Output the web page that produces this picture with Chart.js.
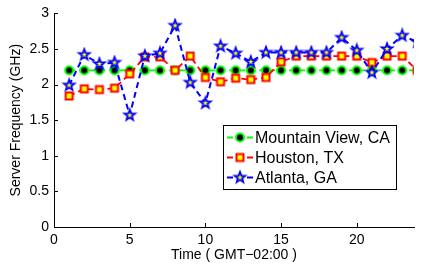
<!DOCTYPE html>
<html>
<head>
<meta charset="utf-8">
<script src="https://cdn.jsdelivr.net/npm/chart.js@4/dist/chart.umd.min.js"></script>
<style>
  html, body { margin: 0; padding: 0; background: #fff; overflow: hidden; }
  #wrap { width: 421px; height: 267px; position: relative; }
</style>
</head>
<body>
<div id="wrap"><canvas id="chart"></canvas></div>
<script>
// ===== Data =====
const hours = [1, 2, 3, 4, 5, 6, 7, 8, 9, 10, 11, 12, 13, 14, 15, 16, 17, 18, 19, 20, 21, 22, 23, 24];
const mountainView = [2.2, 2.2, 2.2, 2.2, 2.2, 2.2, 2.2, 2.2, 2.2, 2.2, 2.2, 2.2,
                      2.2, 2.2, 2.2, 2.2, 2.2, 2.2, 2.2, 2.2, 2.2, 2.2, 2.2, 2.2];
const houston = [1.84, 1.94, 1.93, 1.95, 2.15, 2.39, 2.39, 2.2, 2.4, 2.1, 2.04, 2.09,
                 2.07, 2.1, 2.32, 2.4, 2.4, 2.4, 2.4, 2.4, 2.31, 2.4, 2.4, 2.2];
const atlanta = [1.99, 2.42, 2.29, 2.31, 1.57, 2.4, 2.44, 2.83, 2.03, 1.74, 2.54, 2.44,
                 2.32, 2.45, 2.45, 2.45, 2.45, 2.45, 2.66, 2.48, 2.17, 2.5, 2.69, 2.6];
const seriesLabels = ["Mountain View, CA", "Houston, TX", "Atlanta, GA"];
const xTicks = [0, 5, 10, 15, 20];
const yTicks = [0, 0.5, 1, 1.5, 2, 2.5, 3];

const FONT = "'Liberation Sans', Arial, Helvetica, sans-serif";

// ===== Markers (MATLAB style) =====
function makeMarker(size, draw) {
  const c = document.createElement("canvas");
  c.width = size;
  c.height = size;
  const ctx = c.getContext("2d");
  ctx.translate(size / 2, size / 2);
  draw(ctx);
  return c;
}

const circleMarker = makeMarker(12, (ctx) => {
  ctx.beginPath();
  ctx.arc(0, 0, 4, 0, Math.PI * 2);
  ctx.fillStyle = "#000";
  ctx.fill();
  ctx.lineWidth = 2;
  ctx.strokeStyle = "#00ff00";
  ctx.stroke();
});

const squareMarker = makeMarker(12, (ctx) => {
  ctx.beginPath();
  ctx.rect(-3.5, -3.5, 7, 7);
  ctx.fillStyle = "#ffff00";
  ctx.fill();
  ctx.lineWidth = 2;
  ctx.strokeStyle = "#ff0000";
  ctx.stroke();
});

const starMarker = makeMarker(16, (ctx) => {
  ctx.beginPath();
  for (let i = 0; i < 10; i++) {
    const r = i % 2 === 0 ? 5.6 : 2.3;
    const a = -Math.PI / 2 + (i * Math.PI) / 5;
    ctx.lineTo(r * Math.cos(a), r * Math.sin(a));
  }
  ctx.closePath();
  ctx.fillStyle = "#ffff00";
  ctx.fill();
  ctx.lineWidth = 1.8;
  ctx.strokeStyle = "#0000ff";
  ctx.stroke();
});

const toPoints = (ys) => hours.map((h, i) => ({ x: h, y: ys[i] }));

// ===== Plugins =====
// inward tick marks like MATLAB
const innerTicks = {
  id: "innerTicks",
  afterDraw(chart) {
    const { ctx, chartArea: a, scales: { x, y } } = chart;
    ctx.save();
    ctx.strokeStyle = "#000";
    ctx.lineWidth = 1;
    ctx.beginPath();
    xTicks.forEach((v) => {
      const px = Math.round(x.getPixelForValue(v)) + 0.5;
      ctx.moveTo(px, a.bottom);
      ctx.lineTo(px, a.bottom - 4);
    });
    yTicks.forEach((v) => {
      const py = Math.round(y.getPixelForValue(v)) + 0.5;
      ctx.moveTo(a.left, py);
      ctx.lineTo(a.left + 4, py);
    });
    ctx.stroke();
    ctx.restore();
  },
};

// boxed legend with "-marker-" samples
const boxLegend = {
  id: "boxLegend",
  afterDraw(chart) {
    const { ctx } = chart;
    const box = { x: 223.5, y: 125.5, w: 173, h: 64 };
    ctx.save();
    ctx.fillStyle = "#fff";
    ctx.fillRect(box.x, box.y, box.w, box.h);
    ctx.strokeStyle = "#000";
    ctx.lineWidth = 1;
    ctx.strokeRect(box.x, box.y, box.w, box.h);
    ctx.font = "16px " + FONT;
    ctx.textBaseline = "middle";
    ctx.fillStyle = "#000";
    chart.data.datasets.forEach((ds, i) => {
      const cy = 137.5 + i * 20;
      ctx.strokeStyle = ds.borderColor;
      ctx.lineWidth = 1.8;
      ctx.beginPath();
      ctx.moveTo(227, cy);
      ctx.lineTo(233, cy);
      ctx.moveTo(247, cy);
      ctx.lineTo(253, cy);
      ctx.stroke();
      const m = ds.pointStyle;
      ctx.drawImage(m, 240 - m.width / 2, cy - m.height / 2);
      ctx.fillStyle = "#000";
      ctx.fillText(ds.label, 255, cy + 1);
    });
    ctx.restore();
  },
};

// ===== Chart =====
const tickFont = { family: FONT, size: 14 };

new Chart(document.getElementById("chart"), {
  type: "line",
  data: {
    datasets: [
      {
        label: seriesLabels[0],
        data: toPoints(mountainView),
        borderColor: "#00ff00",
        borderWidth: 1.8,
        borderDash: [6, 4],
        pointStyle: circleMarker,
        order: 2,
      },
      {
        label: seriesLabels[1],
        data: toPoints(houston),
        borderColor: "#ff0000",
        borderWidth: 1.8,
        borderDash: [6, 4],
        pointStyle: squareMarker,
        order: 1,
      },
      {
        label: seriesLabels[2],
        data: toPoints(atlanta),
        borderColor: "#0000ff",
        borderWidth: 2,
        borderDash: [6, 4],
        pointStyle: starMarker,
        order: 0,
      },
    ],
  },
  options: {
    responsive: true,
    maintainAspectRatio: false,
    animation: false,
    layout: { padding: { top: 11, right: 0, left: 0, bottom: 0 } },
    datasets: { line: { fill: false, tension: 0, clip: 0, pointRadius: 5 } },
    plugins: { legend: { display: false }, tooltip: { enabled: false } },
    scales: {
      x: {
        type: "linear",
        min: 0,
        max: 23.78,
        afterBuildTicks: (s) => { s.ticks = xTicks.map((v) => ({ value: v })); },
        afterFit: (s) => { s.height = 40; },
        grid: { display: false, drawTicks: false },
        border: { display: true, color: "#000", width: 1 },
        ticks: { color: "#000", font: tickFont, padding: 5, maxRotation: 0, callback: (v) => String(v) },
        title: {
          display: true,
          text: "Time ( GMT\u221202:00 )",
          color: "#000",
          font: tickFont,
          padding: { top: 0, bottom: 3 },
        },
      },
      y: {
        type: "linear",
        min: 0,
        max: 3,
        afterBuildTicks: (s) => { s.ticks = yTicks.map((v) => ({ value: v })); },
        afterFit: (s) => { s.width = 54; },
        grid: { display: false, drawTicks: false },
        border: { display: true, color: "#000", width: 1 },
        ticks: { color: "#000", font: tickFont, padding: 5, callback: (v) => String(v) },
        title: {
          display: true,
          text: "Server Frequency (GHz)",
          color: "#000",
          font: tickFont,
          padding: { top: 8, bottom: 0 },
        },
      },
    },
  },
  plugins: [innerTicks, boxLegend],
});
</script>
</body>
</html>
